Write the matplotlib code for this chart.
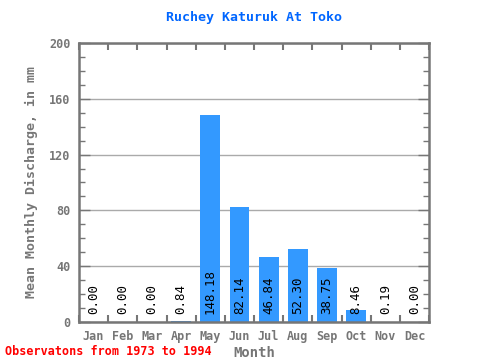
import numpy as np
import matplotlib
matplotlib.use("Agg")
from matplotlib import pyplot as plt
from matplotlib.ticker import MultipleLocator, FixedLocator

months = ['Jan', 'Feb', 'Mar', 'Apr', 'May', 'Jun', 'Jul', 'Aug', 'Sep', 'Oct', 'Nov', 'Dec']
discharge = [0.00, 0.00, 0.00, 0.84, 148.18, 82.14, 46.84, 52.30, 38.75, 8.46, 0.19, 0.00]
yticks = [0, 40, 80, 120, 160, 200]

mono = 'DejaVu Sans Mono'
gray = '#767676'

fig = plt.figure(figsize=(4.8, 3.6), dpi=100)
ax = fig.add_axes([0.1646, 0.1056, 0.7292, 0.775])

x = np.arange(len(months))
ax.bar(x, discharge, width=0.68, color='#3399ff', zorder=2)

# value labels, written upward from the baseline
for xi, v in zip(x, discharge):
    ax.annotate(f"{v:.2f}", (xi, 0), xytext=(0, 6), textcoords='offset points',
                rotation=90, ha='center', va='bottom', fontsize=9,
                family=mono, color='black', zorder=3)

ax.set_xlim(-0.5, len(months) - 0.5)
ax.set_ylim(0, 200)
ax.set_xticks(x)
ax.set_xticklabels(months)
ax.xaxis.set_minor_locator(FixedLocator(np.arange(-0.5, len(months), 1)))
ax.set_yticks(yticks)
ax.yaxis.set_minor_locator(MultipleLocator(10))

ax.tick_params(axis='x', which='major', length=0, pad=6, labelsize=8.5, labelcolor=gray)
ax.tick_params(axis='x', which='minor', direction='in', length=5, width=1.5,
               color=gray, top=True, bottom=True)
ax.tick_params(axis='y', which='major', direction='in', length=8, width=1,
               color=gray, left=True, right=True, labelsize=8.5, labelcolor=gray, pad=6)
ax.tick_params(axis='y', which='minor', direction='in', length=4, width=1,
               color=gray, left=True, right=True)
for lab in ax.get_xticklabels() + ax.get_yticklabels():
    lab.set_family(mono)
    lab.set_fontweight('bold')

ax.grid(axis='y', which='major', color='#aaaaaa', linewidth=1, zorder=1)
for s in ax.spines.values():
    s.set_color(gray)
    s.set_linewidth(1.8)

ax.set_title("Ruchey Katuruk At Toko", color='#0066ff', fontsize=9.5,
             fontweight='bold', family=mono, pad=16)
ax.set_ylabel("Mean Monthly Discharge, in mm", color=gray, fontsize=9.5,
              fontweight='bold', family=mono, labelpad=8)
ax.set_xlabel("Month", color=gray, fontsize=10, fontweight='bold', family=mono, labelpad=2)

fig.text(0.01, 0.015, "Observatons from 1973 to 1994", color='red', fontsize=8.5,
         fontweight='bold', family=mono)

fig.savefig('out.png', dpi=100)
